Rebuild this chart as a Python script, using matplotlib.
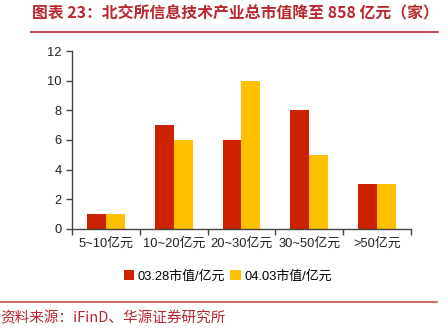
import numpy as np
import matplotlib.pyplot as plt

plt.rcParams['font.family'] = ['Liberation Sans', 'Noto Sans CJK SC']

categories = ['5~10亿元', '10~20亿元', '20~30亿元', '30~50亿元', '>50亿元']
series_0328 = [1, 7, 6, 8, 3]
series_0403 = [1, 6, 10, 5, 3]
labels = ['03.28市值/亿元', '04.03市值/亿元']
red = '#CC2200'
yellow = '#FFC000'
dark_red = '#B8282E'

fig = plt.figure(figsize=(4.48, 3.34), dpi=100)
ax = fig.add_axes([0.1607, 0.3144, 0.7567, 0.5329])

x = np.arange(len(categories))
w = 0.28
ax.bar(x - w / 2, series_0328, w, color=red, label=labels[0])
ax.bar(x + w / 2, series_0403, w, color=yellow, label=labels[1])

ax.set_xlim(-0.5, len(categories) - 0.5)
ax.set_ylim(0, 12)
ax.set_yticks(range(0, 13, 2))
ax.set_xticks(x)
ax.set_xticklabels(categories)
ax.set_xticks(np.arange(-0.5, len(categories)), minor=True)
ax.tick_params(axis='x', which='major', length=0, pad=6, labelsize=9.3, colors='#222222')
ax.tick_params(axis='x', which='minor', length=4, width=1, color='#444444')
ax.tick_params(axis='y', length=4, width=1, labelsize=9.3, colors='#222222', color='#444444')
for s in ['top', 'right']:
    ax.spines[s].set_visible(False)
for s in ['left', 'bottom']:
    ax.spines[s].set_color('#444444')
    ax.spines[s].set_linewidth(1)

ax.legend(loc='upper center', bbox_to_anchor=(0.46, -0.165), ncol=2, frameon=False,
          fontsize=9.3, handlelength=0.8, handleheight=0.8, handletextpad=0.3,
          columnspacing=0.4)

fig.text(0.072, 0.962, '图表 23：北交所信息技术产业总市值降至 858 亿元（家）',
         fontsize=11.4, fontweight='bold', color=dark_red, va='center',
         family=['Noto Sans CJK SC'])
fig.add_artist(plt.Line2D([0.07, 0.978], [0.905, 0.905], color=dark_red, lw=1.2))
fig.add_artist(plt.Line2D([0.0, 0.975], [0.096, 0.096], color='#C85050', lw=1.2))
fig.text(0.0, 0.048, '资料来源：iFinD、华源证券研究所', fontsize=10.5, color=dark_red,
         va='center', family=['Noto Sans CJK SC'])

fig.savefig('out.png', dpi=100)
